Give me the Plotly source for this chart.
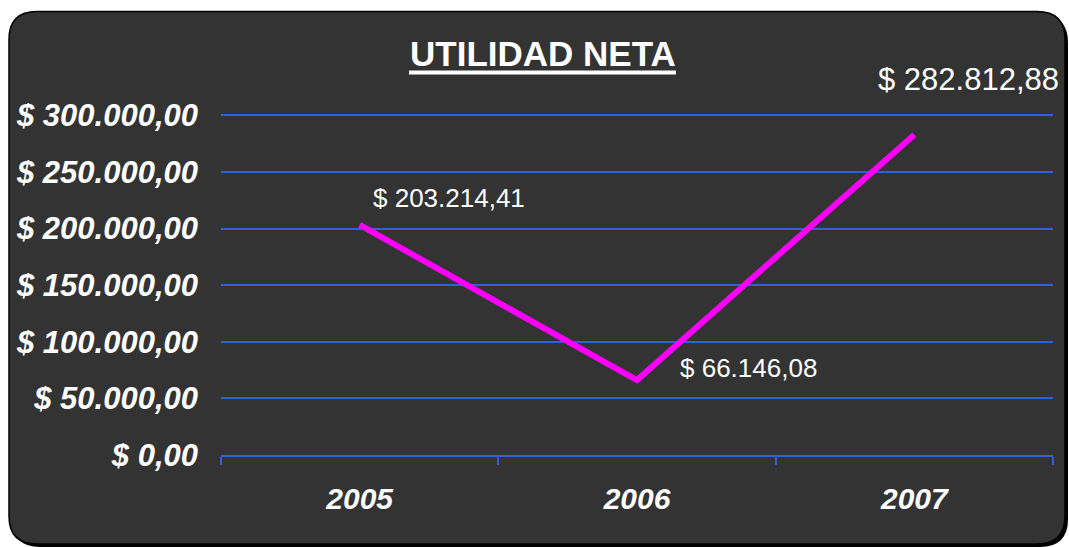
import plotly.graph_objects as go

# ---- data ----
years = ["2005", "2006", "2007"]
utilidad = [203214.41, 66146.08, 282812.88]
y_tickvals = [0, 50000, 100000, 150000, 200000, 250000, 300000]
y_ticktext = ["$ 0,00", "$ 50.000,00", "$ 100.000,00", "$ 150.000,00",
              "$ 200.000,00", "$ 250.000,00", "$ 300.000,00"]
title_text = "UTILIDAD NETA"


def fmt_money(v):
    s = f"{v:,.2f}"
    s = s.replace(",", "X").replace(".", ",").replace("X", ".")
    return "$ " + s


W, H = 1069, 547
YMAX = 303000
L, R, B = 221, 1053, 455
T = B - (B - 115) * YMAX / 300000
FONT = "Liberation Sans, Arial, sans-serif"
BG = "#333333"
BLUE = "#3060E0"


def px(x):
    return (x - L) / (R - L)


def py(y):
    return (B - y) / (B - T)


def rrect(x0, y0, x1, y1, r):
    rx = r / (R - L)
    ry = r / (B - T)
    a, b, c, d = px(x0), py(y0), px(x1), py(y1)
    return (f"M {a+rx},{b} L {c-rx},{b} Q {c},{b} {c},{b-ry} "
            f"L {c},{d+ry} Q {c},{d} {c-rx},{d} "
            f"L {a+rx},{d} Q {a},{d} {a},{d+ry} "
            f"L {a},{b-ry} Q {a},{b} {a+rx},{b} Z")


fig = go.Figure()
fig.add_trace(go.Scatter(
    x=years, y=utilidad, mode="lines",
    line=dict(color="#FF00FF", width=6),
    cliponaxis=False, hoverinfo="skip", showlegend=False,
))

shapes = [
    dict(type="path", xref="paper", yref="paper", layer="below",
         path=rrect(12, 14, 1068, 547, 28), fillcolor="black", line=dict(width=0)),
    dict(type="path", xref="paper", yref="paper", layer="below",
         path=rrect(9, 11, 1065, 544, 28), fillcolor=BG,
         line=dict(color="black", width=1.5)),
    dict(type="line", xref="paper", yref="paper",
         x0=px(409), x1=px(676), y0=py(72), y1=py(72),
         line=dict(color="white", width=4)),
]

label_sizes = [26, 26, 31]
label_shift = [(11, 27), (41, 12), (-38, 55)]
annotations = []
for i, (v, sz, (dx, dy)) in enumerate(zip(utilidad, label_sizes, label_shift)):
    annotations.append(dict(
        x=i, y=v, xref="x", yref="y", text=fmt_money(v), showarrow=False,
        xanchor="left", yanchor="middle", xshift=dx, yshift=dy,
        font=dict(family=FONT, size=sz, color="white"),
    ))
annotations.append(dict(
    x=px(542.5), y=py(53), xref="paper", yref="paper", text=title_text,
    showarrow=False, xanchor="center", yanchor="middle",
    font=dict(family=FONT, size=35, color="white", weight="bold"),
))

fig.update_layout(
    width=W, height=H,
    margin=dict(l=L, r=W - R, t=T, b=H - B, pad=0),
    paper_bgcolor="white", plot_bgcolor="rgba(0,0,0,0)",
    shapes=shapes, annotations=annotations, showlegend=False,
    xaxis=dict(
        type="category", tickson="boundaries", ticks="outside",
        ticklen=8, tickwidth=1.5, tickcolor=BLUE,
        showline=True, linecolor=BLUE, linewidth=1.5,
        showgrid=False, zeroline=False, range=[-0.5, 2.5],
        tickfont=dict(family=FONT, size=30, color="white",
                      weight="bold", style="italic"),
        ticklabelstandoff=16,
    ),
    yaxis=dict(
        range=[0, YMAX], tickvals=y_tickvals, ticktext=y_ticktext,
        showgrid=True, gridcolor=BLUE, gridwidth=2, zeroline=False,
        showline=False, ticks="",
        tickfont=dict(family=FONT, size=31, color="white",
                      weight="bold", style="italic"),
        ticklabelstandoff=22,
    ),
)

fig.write_html("out.html", config={"displayModeBar": False},
               post_script="document.body.style.margin='0';document.body.style.overflow='hidden';")
